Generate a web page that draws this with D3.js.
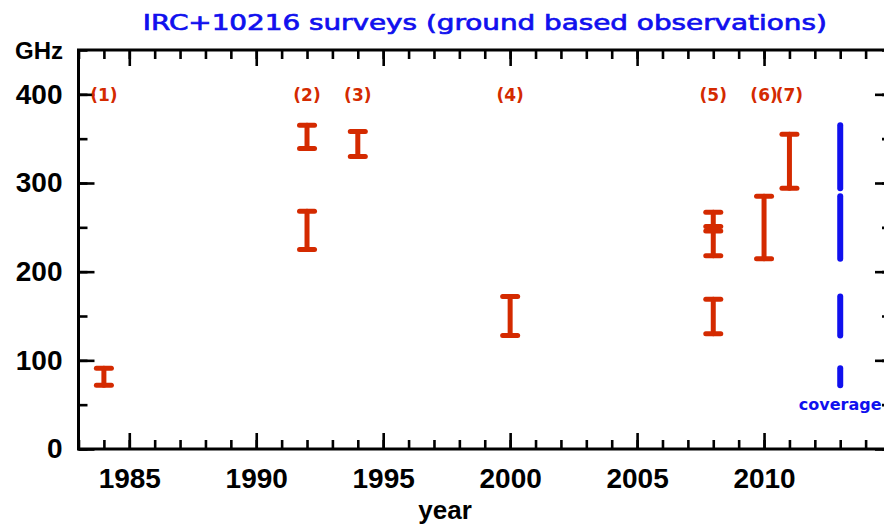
<!DOCTYPE html>
<html>
<head>
<meta charset="utf-8">
<script src="https://cdn.jsdelivr.net/npm/d3@7"></script>
<style>
  html, body { margin: 0; padding: 0; background: #fff; }
  svg { display: block; }
</style>
</head>
<body>
<svg id="chart" width="884" height="524"></svg>
<script>
// Survey frequency ranges (GHz) by year of publication
const surveyYears = [1984, 1992, 1992, 1994, 2000, 2008, 2008, 2008, 2010, 2011];
const surveyLow   = [72,   339,  225,  330,  128,  130,  218,  246,  214.5, 294];
const surveyHigh  = [91,   365,  268,  358,  172,  169,  267,  251,  285,   355];

// Reference markers above the surveys
const refLabels = ["(1)", "(2)", "(3)", "(4)", "(5)", "(6)", "(7)"];
const refYears  = [1984, 1992, 1994, 2000, 2008, 2010, 2011];
const refFreq   = 400;

// Combined frequency coverage
const coverageYear = 2013;
const coverageLow  = [72, 128, 214.5, 294];
const coverageHigh = [91, 172, 285,   365];

// Axis ticks
const yearMajor = [1985, 1990, 1995, 2000, 2005, 2010];
const yearMinor = d3.range(1983, 2016);
const freqMajor = [0, 100, 200, 300, 400];
const freqMinor = d3.range(0, 451, 50);

const RED = "#d42a00";
const BLUE = "#1010ee";

const svg = d3.select("#chart");
const x = d3.scaleLinear().domain([1983, 2015]).range([78.5, 891]);
const y = d3.scaleLinear().domain([0, 450]).range([449, 50]);

const tickFont = "'Liberation Sans', Arial, sans-serif";

// frame
svg.append("rect")
  .attr("x", x(1983)).attr("y", y(450))
  .attr("width", x(2015) - x(1983)).attr("height", y(0) - y(450))
  .attr("fill", "none").attr("stroke", "#000").attr("stroke-width", 3);

function styleAxis(g) {
  g.select(".domain").remove();
  g.selectAll(".tick line").attr("stroke", "#000").attr("stroke-width", 2.6);
}

// bottom axis
svg.append("g").attr("transform", `translate(0,${y(0)})`)
  .call(d3.axisBottom(x).tickValues(yearMinor).tickSize(-9).tickFormat(""))
  .call(styleAxis);
const xb = svg.append("g").attr("transform", `translate(0,${y(0)})`)
  .call(d3.axisBottom(x).tickValues(yearMajor).tickSize(-16).tickPadding(19).tickFormat(d3.format("d")))
  .call(styleAxis);
xb.selectAll("text").attr("font-family", tickFont).attr("font-weight", "bold")
  .attr("font-size", 28).attr("fill", "#000");

// top axis
svg.append("g").attr("transform", `translate(0,${y(450)})`)
  .call(d3.axisTop(x).tickValues(yearMinor).tickSize(-9).tickFormat(""))
  .call(styleAxis);
svg.append("g").attr("transform", `translate(0,${y(450)})`)
  .call(d3.axisTop(x).tickValues(yearMajor).tickSize(-16).tickFormat(""))
  .call(styleAxis);

// left axis
svg.append("g").attr("transform", `translate(${x(1983)},0)`)
  .call(d3.axisLeft(y).tickValues(freqMinor).tickSize(-9).tickFormat(""))
  .call(styleAxis);
const yl = svg.append("g").attr("transform", `translate(${x(1983)},0)`)
  .call(d3.axisLeft(y).tickValues(freqMajor).tickSize(-16).tickPadding(16).tickFormat(d3.format("d")))
  .call(styleAxis);
yl.selectAll("text").attr("font-family", tickFont).attr("font-weight", "bold")
  .attr("font-size", 28).attr("fill", "#000");

// right axis
svg.append("g").attr("transform", `translate(${x(2015)},0)`)
  .call(d3.axisRight(y).tickValues(freqMinor).tickSize(-9).tickFormat(""))
  .call(styleAxis);
svg.append("g").attr("transform", `translate(${x(2015)},0)`)
  .call(d3.axisRight(y).tickValues(freqMajor).tickSize(-16).tickFormat(""))
  .call(styleAxis);

// axis titles
svg.append("text").attr("x", 15).attr("y", 59)
  .attr("font-family", tickFont).attr("font-weight", "bold").attr("font-size", 24)
  .attr("fill", "#000").text("GHz");
svg.append("text").attr("x", 445).attr("y", 519).attr("text-anchor", "middle")
  .attr("font-family", tickFont).attr("font-weight", "bold").attr("font-size", 26)
  .attr("fill", "#000").text("year");

// chart title
svg.append("text").attr("x", (x(1983) + x(2015)) / 2).attr("y", 30)
  .attr("text-anchor", "middle")
  .attr("font-family", "'DejaVu Sans', sans-serif")
  .attr("font-size", 21)
  .attr("textLength", 684).attr("lengthAdjust", "spacingAndGlyphs")
  .attr("fill", BLUE).attr("stroke", BLUE).attr("stroke-width", 0.7)
  .text("IRC+10216 surveys (ground based observations)");

// survey ranges as I-bars
const survey = surveyYears.map((yr, i) => ({ yr, lo: surveyLow[i], hi: surveyHigh[i] }));
const bars = svg.append("g").attr("stroke", RED).attr("stroke-linecap", "round");
bars.selectAll("line.stem").data(survey).join("line").attr("class", "stem")
  .attr("x1", d => x(d.yr)).attr("x2", d => x(d.yr))
  .attr("y1", d => y(d.lo)).attr("y2", d => y(d.hi))
  .attr("stroke-width", 5);
const capHalf = 7.5;
["lo", "hi"].forEach(k => {
  bars.selectAll(`line.cap-${k}`).data(survey).join("line").attr("class", `cap-${k}`)
    .attr("x1", d => x(d.yr) - capHalf).attr("x2", d => x(d.yr) + capHalf)
    .attr("y1", d => y(d[k])).attr("y2", d => y(d[k]))
    .attr("stroke-width", 5);
});

// reference labels
svg.append("g").selectAll("text").data(refLabels).join("text")
  .attr("x", (d, i) => x(refYears[i])).attr("y", y(refFreq) + 6.5)
  .attr("text-anchor", "middle")
  .attr("font-family", "'DejaVu Sans', sans-serif").attr("font-weight", "bold")
  .attr("font-size", 17).attr("fill", RED)
  .text(d => d);

// combined coverage
svg.append("g").selectAll("line").data(coverageLow).join("line")
  .attr("x1", x(coverageYear)).attr("x2", x(coverageYear))
  .attr("y1", d => y(d)).attr("y2", (d, i) => y(coverageHigh[i]))
  .attr("stroke", BLUE).attr("stroke-width", 6).attr("stroke-linecap", "round");
svg.append("text").attr("x", x(coverageYear)).attr("y", 410)
  .attr("text-anchor", "middle")
  .attr("font-family", "'DejaVu Sans', sans-serif").attr("font-weight", "bold")
  .attr("font-size", 16).attr("fill", BLUE).text("coverage");
</script>
</body>
</html>
